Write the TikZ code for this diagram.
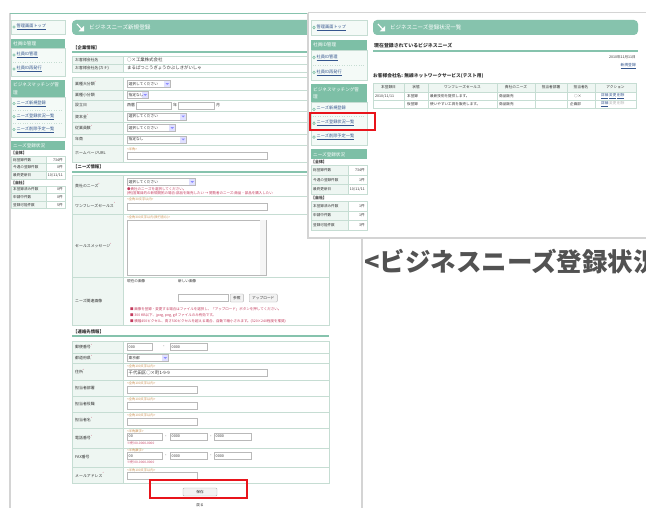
\documentclass[tikz,border=0pt]{standalone}
\usepackage{fontspec}
\setmainfont{Noto Sans CJK JP}
\usetikzlibrary{positioning}

\definecolor{headc}{HTML}{7DBFA6}
\definecolor{titc}{HTML}{86C3AD}
\definecolor{linec}{HTML}{C6DDD3}
\definecolor{labc}{HTML}{EEF6F2}
\definecolor{sidec}{HTML}{F4FAF7}
\definecolor{linkc}{HTML}{34568E}
\definecolor{notec}{HTML}{C33A5C}
\definecolor{hintc}{HTML}{C98D4B}
\definecolor{markc}{HTML}{E8141B}
\definecolor{framec}{HTML}{D4D4D4}
\definecolor{textc}{HTML}{333333}

\newcommand\sz[1]{\fontsize{#1}{#1}\selectfont}
\newcommand\req{\textsuperscript{\color{notec}*}}
% link with a small round icon
\newcommand\slink[4]{\draw[icoc] (#2+3,#3) circle (1.3);
  \node[link] (#1) at (#2+5.5,#3) {\underline{#4}};}
% one row of a form table
\newcommand\frow[4]{\draw[labcell] (72,#2) rectangle (123,#3);
  \draw[cell] (123,#2) rectangle (329,#3);
  \node[lab] (#1) at (75,{(#2+#3)/2}) {#4};}
\newcommand\tframe[2]{\draw[linec, line width=0.9] (72,#1) rectangle (329,#2);}
% side menu: prefix, x, width, menu scale, row height, whole rows, own rows
\newcommand\sidebar[7]{%
  \begin{scope}[shift={(#2,20)}]
    \begin{scope}[yscale=#4]
      \draw[sidebox] (0,0) rectangle (#3,14);
      \slink{#1a}{0}{7}{管理画面トップ}
      \fill[headc] (0,19) rectangle (#3,28);
      \node[sidehead] (#1h1) at (2,23.5) {社員ID管理};
      \draw[sidebox] (0,28) rectangle (#3,56);
      \slink{#1b}{0}{35}{社員ID管理}
      \draw[sep] (2,42) -- (#3-2,42);
      \slink{#1c}{0}{49}{社員ID再発行}
      \fill[headc] (0,60) rectangle (#3,77);
      \node[sidehead, font=\fontsize{4.6}{7.5}\selectfont] (#1h2) at (2,68.5) {ビジネスマッチング管\\理};
      \draw[sidebox] (0,77) rectangle (#3,117);
      \slink{#1d}{0}{83.5}{ニーズ新規登録}
      \draw[sep] (2,90) -- (#3-2,90);
      \slink{#1e}{0}{96.5}{ニーズ登録状況一覧}
      \draw[sep] (2,103) -- (#3-2,103);
      \slink{#1f}{0}{109.5}{ニーズ削除予定一覧}
      \fill[headc] (0,121) rectangle (#3,130);
      \node[sidehead] (#1h3) at (2,125.5) {ニーズ登録状況};
    \end{scope}
    \pgfmathsetmacro\tb{133*#4}
    \node[sect, font=\bfseries\sz{3.9}] (#1w) at (0,\tb) {【全体】};
    \foreach \l/\v [count=\i] in {#6} {
      \pgfmathsetmacro\ya{\tb+3+(\i-1)*#5}
      \draw[labcell] (0,\ya) rectangle (0.66*#3,\ya+#5);
      \draw[cell] (0.66*#3,\ya) rectangle (#3,\ya+#5);
      \node[lab, font=\sz{3.6}] (#1w\i) at (2,\ya+#5/2) {\l};
      \node[lab, anchor=east, font=\sz{3.6}] (#1wv\i) at (#3-2,\ya+#5/2) {\v};
    }
    \pgfmathsetmacro\tc{\tb+3+3*#5+4}
    \node[sect, font=\bfseries\sz{3.9}] (#1o) at (0,\tc) {【自社】};
    \foreach \l/\v [count=\i] in {#7} {
      \pgfmathsetmacro\ya{\tc+3+(\i-1)*#5}
      \draw[labcell] (0,\ya) rectangle (0.66*#3,\ya+#5);
      \draw[cell] (0.66*#3,\ya) rectangle (#3,\ya+#5);
      \node[lab, font=\sz{3.6}] (#1o\i) at (2,\ya+#5/2) {\l};
      \node[lab, anchor=east, font=\sz{3.6}] (#1ov\i) at (#3-2,\ya+#5/2) {\v};
    }
  \end{scope}}

\begin{document}
\begin{tikzpicture}[x=1pt, y=-1pt,
    every node/.style={inner sep=0pt, text=textc, font=\sz{3.7}},
    lab/.style={anchor=west, font=\sz{3.9}},
    val/.style={anchor=west, font=\sz{4.4}},
    link/.style={anchor=west, text=linkc, font=\sz{4.2}},
    sidehead/.style={anchor=west, text=white, font=\sz{4.6}, align=left},
    sect/.style={anchor=west, font=\bfseries\sz{4.4}},
    hint/.style={anchor=west, text=hintc, font=\sz{3.2}},
    note/.style={anchor=west, text=notec, font=\sz{3.5}},
    inp/.style={draw=gray!55, fill=white, anchor=west, minimum height=7,
                inner xsep=1.5, align=left},
    sel/.style={inp, path picture={
        \fill[blue!12] ([xshift=-6pt]path picture bounding box.north east)
          rectangle (path picture bounding box.south east);
        \fill[blue!45] ([xshift=-4.6pt,yshift=0.8pt]path picture bounding box.east)
          -- ++(3.2pt,0) -- ++(-1.6pt,-1.8pt) -- cycle;}},
    btn/.style={draw=gray!60, fill=gray!10, rounded corners=1, minimum height=8,
                inner xsep=3},
    cell/.style={draw=linec, fill=white},
    labcell/.style={draw=linec, fill=labc},
    uline/.style={draw=titc, line width=1.2},
    sidebox/.style={draw=linec, fill=sidec},
    sep/.style={draw=linec, dotted},
    icoc/.style={draw=headc, line width=0.6},
    redmark/.style={draw=markc, line width=1.8}]
\useasboundingbox (0,0) rectangle (646,508);
\clip (0,0) rectangle (646,508);

% ---- left screen: new registration form
\draw[framec, line width=1.5] (10,13) -- (10,508);
\draw[titc, line width=0.8] (10,13) -- (308,13);
\sidebar{ls}{11}{54}{1}{7.6}{総登録件数/734件, 今週の登録件数/0件, 最終更新日/{10/11/11}}{本登録済み件数/0件, 申請中件数/0件, 登録可能件数/5件}

\fill[titc, rounded corners=4] (72,20) rectangle (329,35);
\draw[white, line width=1.1] (77,24) -- (82.5,30);
\fill[white] (84,31.5) -- (78.5,31.5) -- (84,26) -- cycle;
\node[anchor=west, text=white, font=\sz{5.6}] (ltitle) at (89,27.5) {ビジネスニーズ新規登録};

\node[sect] (lsec1) at (73,47.5) {【企業情報】};
\draw[uline] (72,52) -- (329,52);
\frow{r11}{56}{64}{お客様会社名}
\node[val] (v11) at (127,60) {○×工業株式会社};
\frow{r12}{64}{72}{お客様会社名(カナ)}
\node[val] (v12) at (127,68) {まるばつこうぎょうかぶしきがいしゃ};
\tframe{56}{72}

\frow{r21}{77}{90}{業種大分類\req}
\node[sel, text width=40] (v21) at (127,84) {選択してください};
\frow{r22}{90}{100}{業種小分類}
\node[sel, text width=18] (v22) at (127,95) {指定なし};
\frow{r23}{100}{111}{設立日}
\node[lab] (v23a) at (127,105.5) {西暦};
\node[inp, text width=32] (v23b) at (136,105.5) {};
\node[lab] (v23c) at (173,105.5) {年};
\node[inp, text width=33] (v23d) at (178,105.5) {};
\node[lab] (v23e) at (216,105.5) {月};
\frow{r24}{111}{122}{資本金\req}
\node[sel, text width=56] (v24) at (127,116.5) {選択してください};
\frow{r25}{122}{134}{従業員数\req}
\node[sel, text width=45] (v25) at (127,128) {選択してください};
\frow{r26}{134}{145}{年商}
\node[sel, text width=56] (v26) at (127,139.5) {指定なし};
\frow{r27}{145}{162}{ホームページURL}
\node[hint] (h27) at (127,149) {<半角>};
\node[inp, text width=137] (v27) at (127,156) {};
\tframe{77}{162}

\node[sect] (lsec2) at (73,167) {【ニーズ情報】};
\draw[uline] (72,172) -- (329,172);
\frow{r31}{175}{196}{貴社のニーズ\req}
\node[sel, text width=65] (v31) at (127,182) {選択してください};
\node[note] (n31a) at (127,189) {●貴社のニーズを選択してください。};
\node[note] (n31b) at (127,193.3) {(例)営業目的の新規開拓の場合:部品を販売したい → 閲覧者のニーズ:商品・部品を購入したい};
\frow{r32}{196}{214}{ワンフレーズセールス\req}
\node[hint] (h32) at (127,199.5) {<全角30文字以内>};
\node[inp, text width=137] (v32) at (127,207) {};
\frow{r33}{214}{277}{セールスメッセージ\req}
\node[hint] (h33) at (127,217) {<全角300文字以内(改行含む)>};
\node[inp, anchor=north west, text width=136, minimum height=55] (v33) at (127,220) {};
\fill[gray!8] (260,220.5) rectangle (265.5,274.5);
\frow{r34}{277}{325}{ニーズ関連画像}
\node[lab, font=\sz{3.6}] (c34a) at (127,281) {現在の画像};
\node[lab, font=\sz{3.6}] (c34b) at (178,281) {新しい画像};
\node[inp, text width=47] (v34) at (178,298) {};
\node[btn, anchor=west] (b34a) at (230,298) {参照};
\node[btn, anchor=west] (b34b) at (249,298) {アップロード};
\node[note] (n34a) at (130,309) {■ 画像を登録・変更する場合はファイルを選択し、「アップロード」ボタンを押してください。};
\node[note] (n34b) at (130,315) {■ 300 KB以下、jpeg, png, gif ファイルのみ有効です。};
\node[note] (n34c) at (130,321) {■ 横幅450ピクセル、高さ500ピクセルを超える場合、自動で縮小されます。(320×240程度を推奨)};
\tframe{175}{325}

\node[sect] (lsec3) at (73,332) {【連絡先情報】};
\draw[uline] (72,336) -- (329,336);
\frow{r41}{341}{353}{郵便番号\req}
\node[inp, text width=22] (v41a) at (127,347) {000};
\node[lab] (d41) at (163,347) {-};
\node[inp, text width=34] (v41b) at (170,347) {0000};
\frow{r42}{353}{363}{都道府県\req}
\node[sel, text width=38] (v42) at (127,358) {東京都};
\frow{r43}{363}{380}{住所\req}
\node[hint] (h43) at (127,366) {<全角100文字以内>};
\node[inp, text width=137, font=\sz{4.4}] (v43) at (127,373) {千代田区○×町1-9-9};
\frow{r44}{380}{396}{担当者部署}
\node[hint] (h44) at (127,383) {<全角100文字以内>};
\node[inp, text width=67] (v44) at (127,389.5) {};
\frow{r45}{396}{412}{担当者役職}
\node[hint] (h45) at (127,399) {<全角100文字以内>};
\node[inp, text width=67] (v45) at (127,405.5) {};
\frow{r46}{412}{428}{担当者名\req}
\node[hint] (h46) at (127,415) {<全角100文字以内>};
\node[inp, text width=67] (v46) at (127,421.5) {};
\frow{r47}{428}{448}{電話番号\req}
\node[hint] (h47) at (127,431) {<半角数字>};
\node[inp, text width=32] (v47a) at (127,436.5) {00};
\node[lab] (d47a) at (165,436.5) {-};
\node[inp, text width=34] (v47b) at (170,436.5) {0000};
\node[lab] (d47b) at (210,436.5) {-};
\node[inp, text width=34] (v47c) at (214,436.5) {0000};
\node[note, font=\sz{3.2}] (n47) at (127,443) {※例 00-0000-0000};
\frow{r48}{448}{467}{FAX番号}
\node[hint] (h48) at (127,450.5) {<半角数字>};
\node[inp, text width=32] (v48a) at (127,456) {00};
\node[lab] (d48a) at (165,456) {-};
\node[inp, text width=34] (v48b) at (170,456) {0000};
\node[lab] (d48b) at (210,456) {-};
\node[inp, text width=34] (v48c) at (214,456) {0000};
\node[note, font=\sz{3.2}] (n48) at (127,462.5) {※例 00-0000-0000};
\frow{r49}{467}{483}{メールアドレス\req}
\node[hint] (h49) at (127,470) {<半角100文字以内>};
\node[inp, text width=67] (v49) at (127,476) {};
\tframe{341}{483}

\node[btn, minimum width=34] (save) at (200,492) {保存};
\node[redmark, minimum width=97, minimum height=18] (savemark) at (198.5,489) {};
\node[font=\sz{3.6}] (back) at (200,505.5) {戻る};

% ---- right screen: status list, laid over the form
\fill[white] (308,10) rectangle (646,238);
\draw[framec, line width=1] (308,13) -- (646,13);
\draw[framec, line width=1.5] (308,13) -- (308,238) -- (646,238);
\sidebar{rs}{311}{56}{1.07}{9.6}{総登録件数/734件, 今週の登録件数/1件, 最終更新日/{10/11/11}}{本登録済み件数/1件, 申請中件数/1件, 登録可能件数/3件}

\fill[titc, rounded corners=4] (373,20) rectangle (638,35);
\draw[white, line width=1.1] (378,24) -- (383.5,30);
\fill[white] (385,31.5) -- (379.5,31.5) -- (385,26) -- cycle;
\node[anchor=west, text=white, font=\sz{5.5}] (rtitle) at (390,27.5) {ビジネスニーズ登録状況一覧};

\node[sect, font=\bfseries\sz{4.9}] (rsec) at (374,46) {現在登録されているビジネスニーズ};
\draw[uline] (373,51) -- (638,51);
\node[anchor=east, font=\sz{3.6}] (date) at (636,57) {2010年11月11日};
\node[link, anchor=east, font=\sz{3.8}] (newreg) at (636,66) {\underline{新規登録}};
\node[sect, font=\bfseries\sz{4.7}] (cname) at (373,76) {お客様会社名: 無線ネットワークサービス(テスト用)};
\foreach \xa/\xb/\t [count=\i] in {373/404/本登録日, 404/428/状態, 428/497/ワンフレーズセールス,
    497/535/貴社のニーズ, 535/567/担当者部署, 567/595/担当者名, 595/636/アクション} {
  \draw[labcell] (\xa,83) rectangle (\xb,92);
  \node (th\i) at ({(\xa+\xb)/2},87.5) {\t};
  \draw[cell] (\xa,92) rectangle (\xb,100);
  \draw[cell] (\xa,100) rectangle (\xb,108);
}
\node[lab, font=\sz{3.6}] (td11) at (375,96) {2010/11/11};
\node[lab, font=\sz{3.6}] (td12) at (407,96) {本登録};
\node[lab, font=\sz{3.6}] (td13) at (430,96) {最新技術を提供します。};
\node[lab, font=\sz{3.6}] (td14) at (499,96) {商品販売};
\node[lab, font=\sz{3.6}] (td16) at (574,96) {○×};
\node[link, font=\sz{3.6}] (td17) at (601,96) {\underline{詳細} \underline{変更} \underline{削除}};
\node[lab, font=\sz{3.6}] (td22) at (407,104) {仮登録};
\node[lab, font=\sz{3.6}] (td23) at (430,104) {使いやすい工具を販売します。};
\node[lab, font=\sz{3.6}] (td24) at (499,104) {商品販売};
\node[lab, font=\sz{3.6}] (td26) at (570,104) {企画部};
\node[link, font=\sz{3.6}] (td27) at (601,104) {\underline{詳細} {\color{gray!60}変更 削除}};

\node[redmark, anchor=north west, minimum width=65, minimum height=17] (listmark) at (309,112) {};

% ---- page below
\draw[framec, line width=1.5] (362,238) -- (362,508);
\node[anchor=west, text=black!68, font=\bfseries\sz{25.5}] (bigtitle) at (364,262) {<ビジネスニーズ登録状況};
\end{tikzpicture}
\end{document}
